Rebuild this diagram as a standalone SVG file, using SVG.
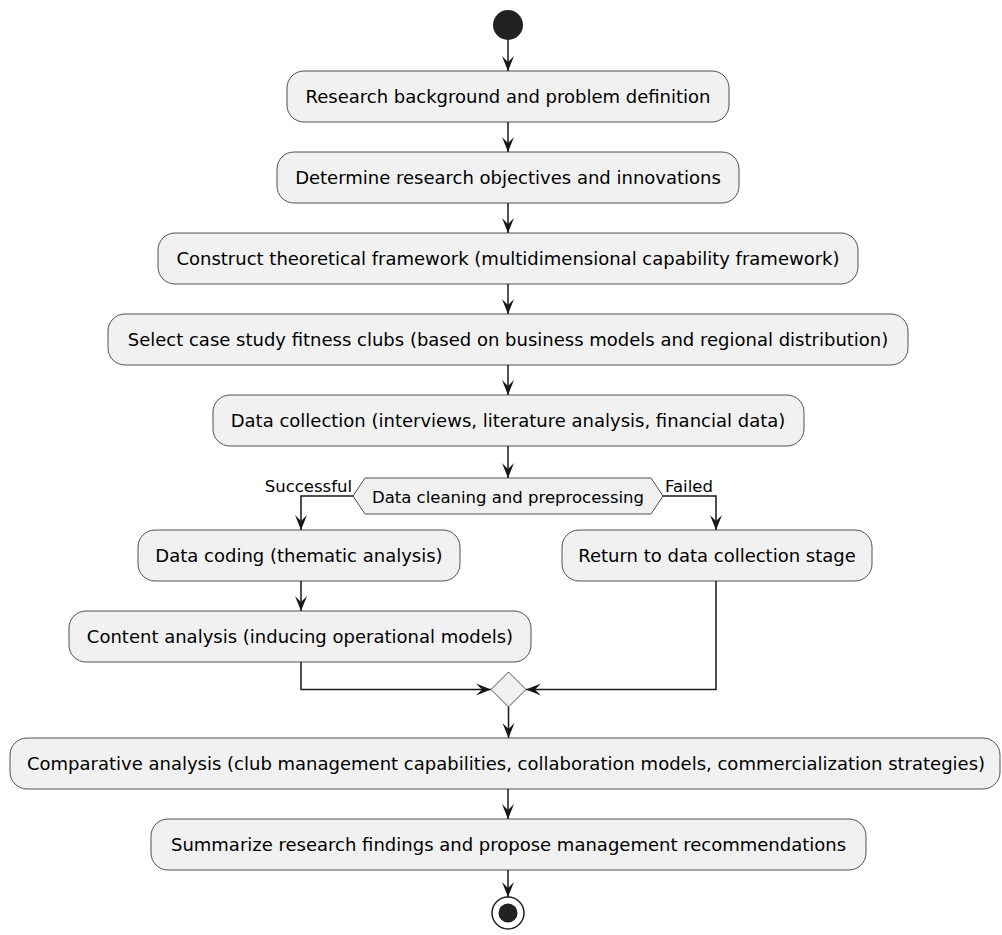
<svg xmlns="http://www.w3.org/2000/svg" width="1002" height="935" viewBox="0 0 1002 935">
<style>
.box{fill:#F1F1F1;stroke:#181818;stroke-width:0.75}
.t{font-family:"DejaVu Sans",sans-serif;font-size:18px;fill:#000;text-anchor:middle}
.s{font-family:"DejaVu Sans",sans-serif;font-size:16.5px;fill:#000}
.c{fill:none;stroke:#181818;stroke-width:1.5}
</style>
<defs>
<marker id="ah" viewBox="-16 -7 17 14" markerWidth="17" markerHeight="14" refX="0" refY="0" orient="auto" markerUnits="userSpaceOnUse">
<path d="M0,0 L-15,-6 L-9,0 L-15,6 Z" fill="#181818"/>
</marker>
</defs>
<rect width="1002" height="935" fill="#FFFFFF"/>
<g id="connectors">
<path class="c" d="M508,40 V71" marker-end="url(#ah)"/>
<path class="c" d="M508,122 V152" marker-end="url(#ah)"/>
<path class="c" d="M508,203 V233" marker-end="url(#ah)"/>
<path class="c" d="M508,284 V314" marker-end="url(#ah)"/>
<path class="c" d="M508,365 V395" marker-end="url(#ah)"/>
<path class="c" d="M508,446 V478" marker-end="url(#ah)"/>
<path class="c" d="M353,496 H301 V530" marker-end="url(#ah)"/>
<path class="c" d="M663,496 H716 V530" marker-end="url(#ah)"/>
<path class="c" d="M301,581 V611" marker-end="url(#ah)"/>
<path class="c" d="M301,662 V689.5 H491" marker-end="url(#ah)"/>
<path class="c" d="M716,581 V689.5 H526" marker-end="url(#ah)"/>
<path class="c" d="M508.5,707 V738" marker-end="url(#ah)"/>
<path class="c" d="M508,789 V819" marker-end="url(#ah)"/>
<path class="c" d="M508,870 V897" marker-end="url(#ah)"/>
<text class="s" x="352" y="492" text-anchor="end">Successful</text>
<text class="s" x="665" y="492">Failed</text>
</g>
<g id="start"><circle cx="508" cy="25" r="15" fill="#222222"/></g>
<g id="n1"><rect class="box" x="287" y="71" width="442" height="51" rx="17"/><text class="t" x="508" y="102.5">Research background and problem definition</text></g>
<g id="n2"><rect class="box" x="277" y="152" width="462" height="51" rx="17"/><text class="t" x="508" y="183.5">Determine research objectives and innovations</text></g>
<g id="n3"><rect class="box" x="158" y="233" width="700" height="51" rx="17"/><text class="t" x="508" y="264.5">Construct theoretical framework (multidimensional capability framework)</text></g>
<g id="n4"><rect class="box" x="108" y="314" width="800" height="51" rx="17"/><text class="t" x="508" y="345.5">Select case study fitness clubs (based on business models and regional distribution)</text></g>
<g id="n5"><rect class="box" x="213" y="395" width="591" height="51" rx="17"/><text class="t" x="508" y="426.5">Data collection (interviews, literature analysis, financial data)</text></g>
<g id="decision"><polygon class="box" points="353,496 365,478 651,478 663,496 651,514 365,514"/><text class="s" x="508" y="502.5" text-anchor="middle">Data cleaning and preprocessing</text></g>
<g id="n6"><rect class="box" x="138" y="530" width="322" height="51" rx="17"/><text class="t" x="299" y="561.5">Data coding (thematic analysis)</text></g>
<g id="n7"><rect class="box" x="562" y="530" width="310" height="51" rx="17"/><text class="t" x="717" y="561.5">Return to data collection stage</text></g>
<g id="n8"><rect class="box" x="69" y="611" width="462" height="51" rx="17"/><text class="t" x="300" y="642.5">Content analysis (inducing operational models)</text></g>
<g id="merge"><polygon class="box" points="508.5,672 526,689.5 508.5,707 491,689.5"/></g>
<g id="n9"><rect class="box" x="10" y="738" width="990" height="51" rx="17"/><text class="t" x="506" y="769.5">Comparative analysis (club management capabilities, collaboration models, commercialization strategies)</text></g>
<g id="n10"><rect class="box" x="151" y="819" width="715" height="51" rx="17"/><text class="t" x="508.5" y="850.5">Summarize research findings and propose management recommendations</text></g>
<g id="end"><circle cx="508" cy="913" r="16" fill="none" stroke="#222222" stroke-width="1.5"/><circle cx="508" cy="913" r="9.5" fill="#222222"/></g>
</svg>
